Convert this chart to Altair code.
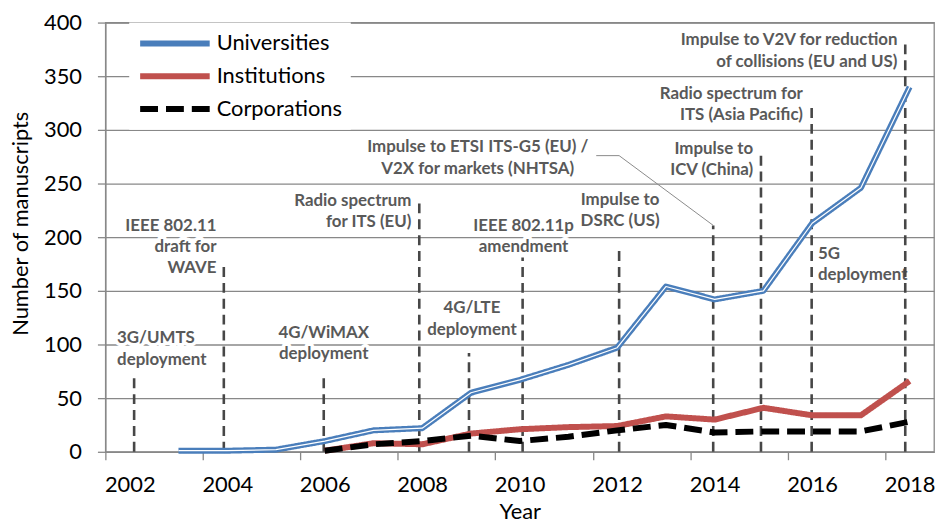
import altair as alt
import pandas as pd

# ---------------- data ----------------
series_names = ["Universities", "Institutions", "Corporations"]
years_univ = list(range(2003, 2019))
univ = [1, 1, 2, 10, 20, 22, 55, 67, 81, 97, 154, 142, 150, 213, 246, 340]
years_other = list(range(2006, 2019))
inst = [1, 8, 7, 17, 21, 23, 24, 33, 30, 41, 34, 34, 66]
corp = [1, 7, 10, 15, 10, 14, 20, 25, 18, 19, 19, 19, 28]

x_labels = [2002, 2004, 2006, 2008, 2010, 2012, 2014, 2016, 2018]
y_ticks = [0, 50, 100, 150, 200, 250, 300, 350, 400]

# event markers (dashed vertical lines)
event_year = [2002.09, 2003.93, 2005.98, 2007.94, 2008.96, 2010.06,
              2012.04, 2013.97, 2014.95, 2015.99, 2017.91]
event_top = [73, 177, 72, 236, 92, 181, 190, 211, 277, 325, 380]

# annotation texts
ann_text = [
    "3G/UMTS\ndeployment",
    "IEEE 802.11\ndraft for\nWAVE",
    "4G/WiMAX\ndeployment",
    "Radio spectrum\nfor ITS (EU)",
    "4G/LTE\ndeployment",
    "IEEE 802.11p\namendment",
    "Impulse to\nDSRC (US)",
    "Impulse to ETSI ITS-G5 (EU) /\nV2X for markets (NHTSA)",
    "Impulse to\nICV (China)",
    "Radio spectrum for\nITS  (Asia Pacific)",
    "Impulse to V2V for reduction\nof collisions (EU and US)",
    "5G\ndeployment",
]
ann_x = [2001.74, 2003.78, 2005.98, 2007.78, 2009.02, 2010.08,
         2012.06, 2009.14, 2014.79, 2015.81, 2017.75, 2016.12]
ann_y = [113, 218, 118, 241, 141, 218, 242, 291, 290, 341, 391, 192]
ann_align = ["left", "right", "center", "right", "center", "center",
             "center", "center", "right", "right", "right", "left"]

# leader line for the ETSI annotation
leader_x = [2011.57, 2012.04, 2013.97]
leader_y = [276, 276, 211]

# ---------------- tables ----------------
df = pd.DataFrame({
    "Year": years_univ + years_other + years_other,
    "Value": univ + inst + corp,
    "Series": [series_names[0]] * len(univ) + [series_names[1]] * len(inst)
              + [series_names[2]] * len(corp),
})
ev = pd.DataFrame({"Year": event_year, "Top": event_top, "Value": [0] * len(event_year)})
ann = pd.DataFrame({"Year": ann_x, "Value": ann_y, "Text": ann_text, "Align": ann_align})
lead = pd.DataFrame({"Year": leader_x, "Value": leader_y, "i": list(range(len(leader_x)))})

FONT = "Lato"
GRID = "#888888"
TXT = "#595959"

xscale = alt.Scale(domain=[2001.5, 2018.5], nice=False, zero=False)
yscale = alt.Scale(domain=[0, 400], nice=False)

x_axis = alt.Axis(values=x_labels, format="d", title="Year", grid=False,
                  tickSize=8, tickOffset=-24.53, labelOffset=24.53,
                  labelPadding=15, titleY=50, titleBaseline="top")
y_axis = alt.Axis(values=y_ticks, title="Number of manuscripts", grid=True,
                  tickSize=8, labelPadding=16, titleX=-85, titleY=202,
                  titleBaseline="middle")

X = alt.X("Year:Q", scale=xscale, axis=x_axis)
Y = alt.Y("Value:Q", scale=yscale, axis=y_axis)

# dashed event lines
rules = alt.Chart(ev).mark_rule(color="#474747", strokeWidth=2.6,
                                strokeDash=[10, 6]).encode(
    x=X, y=Y, y2="Top:Q",
)

leader = alt.Chart(lead).mark_line(color="#8a8a8a", strokeWidth=1).encode(
    x=X, y=Y, order="i:Q",
)

halos = []
texts = []
for al in ["left", "center", "right"]:
    for halo in [True, False]:
        kw = dict(align=al, baseline="top", font=FONT, fontWeight="bold",
                  fontSize=17, lineBreak="\n", lineHeight=21.5, color=TXT)
        if halo:
            kw.update(stroke="white", strokeWidth=7, strokeJoin="round", color="white")
        t = alt.Chart(ann).transform_filter(
            alt.datum.Align == al
        ).mark_text(**kw).encode(x=X, y=Y, text="Text:N")
        (halos if halo else texts).append(t)

leg = alt.Legend(
    title=None, orient="none", legendX=24, legendY=0,
    fillColor="white", padding=8,
    symbolType="stroke", symbolSize=4900, symbolStrokeWidth=5.5,
    labelFont=FONT, labelFontSize=22, labelColor="#000000", labelOffset=4,
    clipHeight=26, rowPadding=7,
)

lines = alt.Chart(df).mark_line(strokeJoin="round").encode(
    x=X, y=Y,
    color=alt.Color("Series:N", legend=leg,
                    scale=alt.Scale(domain=series_names,
                                    range=["#4a7ebb", "#c0504d", "#000000"])),
    strokeDash=alt.StrokeDash("Series:N", legend=leg,
                              scale=alt.Scale(domain=series_names,
                                              range=[[1, 0], [1, 0], [18, 8]])),
    strokeWidth=alt.StrokeWidth("Series:N", legend=None,
                                scale=alt.Scale(domain=series_names,
                                                range=[6, 6, 5])),
)

inner = alt.Chart(df).transform_filter(
    alt.datum.Series == series_names[0]
).mark_line(color="white", strokeWidth=1.2, strokeJoin="round").encode(x=X, y=Y)

chart = alt.layer(
    *halos, *texts, rules, leader, lines, inner
).properties(
    width=834, height=432,
    padding={"left": 98, "top": 13, "right": 2, "bottom": 69},
    autosize=alt.AutoSizeParams(type="none"),
).configure_view(
    stroke=GRID, strokeWidth=1.3
).configure_axis(
    labelFont=FONT, labelFontSize=22, labelColor="#000000",
    titleFont=FONT, titleFontSize=22, titleColor="#000000", titleFontWeight="normal",
    domainColor=GRID, domainWidth=1.3, tickColor=GRID, tickWidth=1.3,
    gridColor=GRID, gridWidth=1.3,
)

chart.save("out.html", embed_options={"renderer": "svg", "actions": False})
